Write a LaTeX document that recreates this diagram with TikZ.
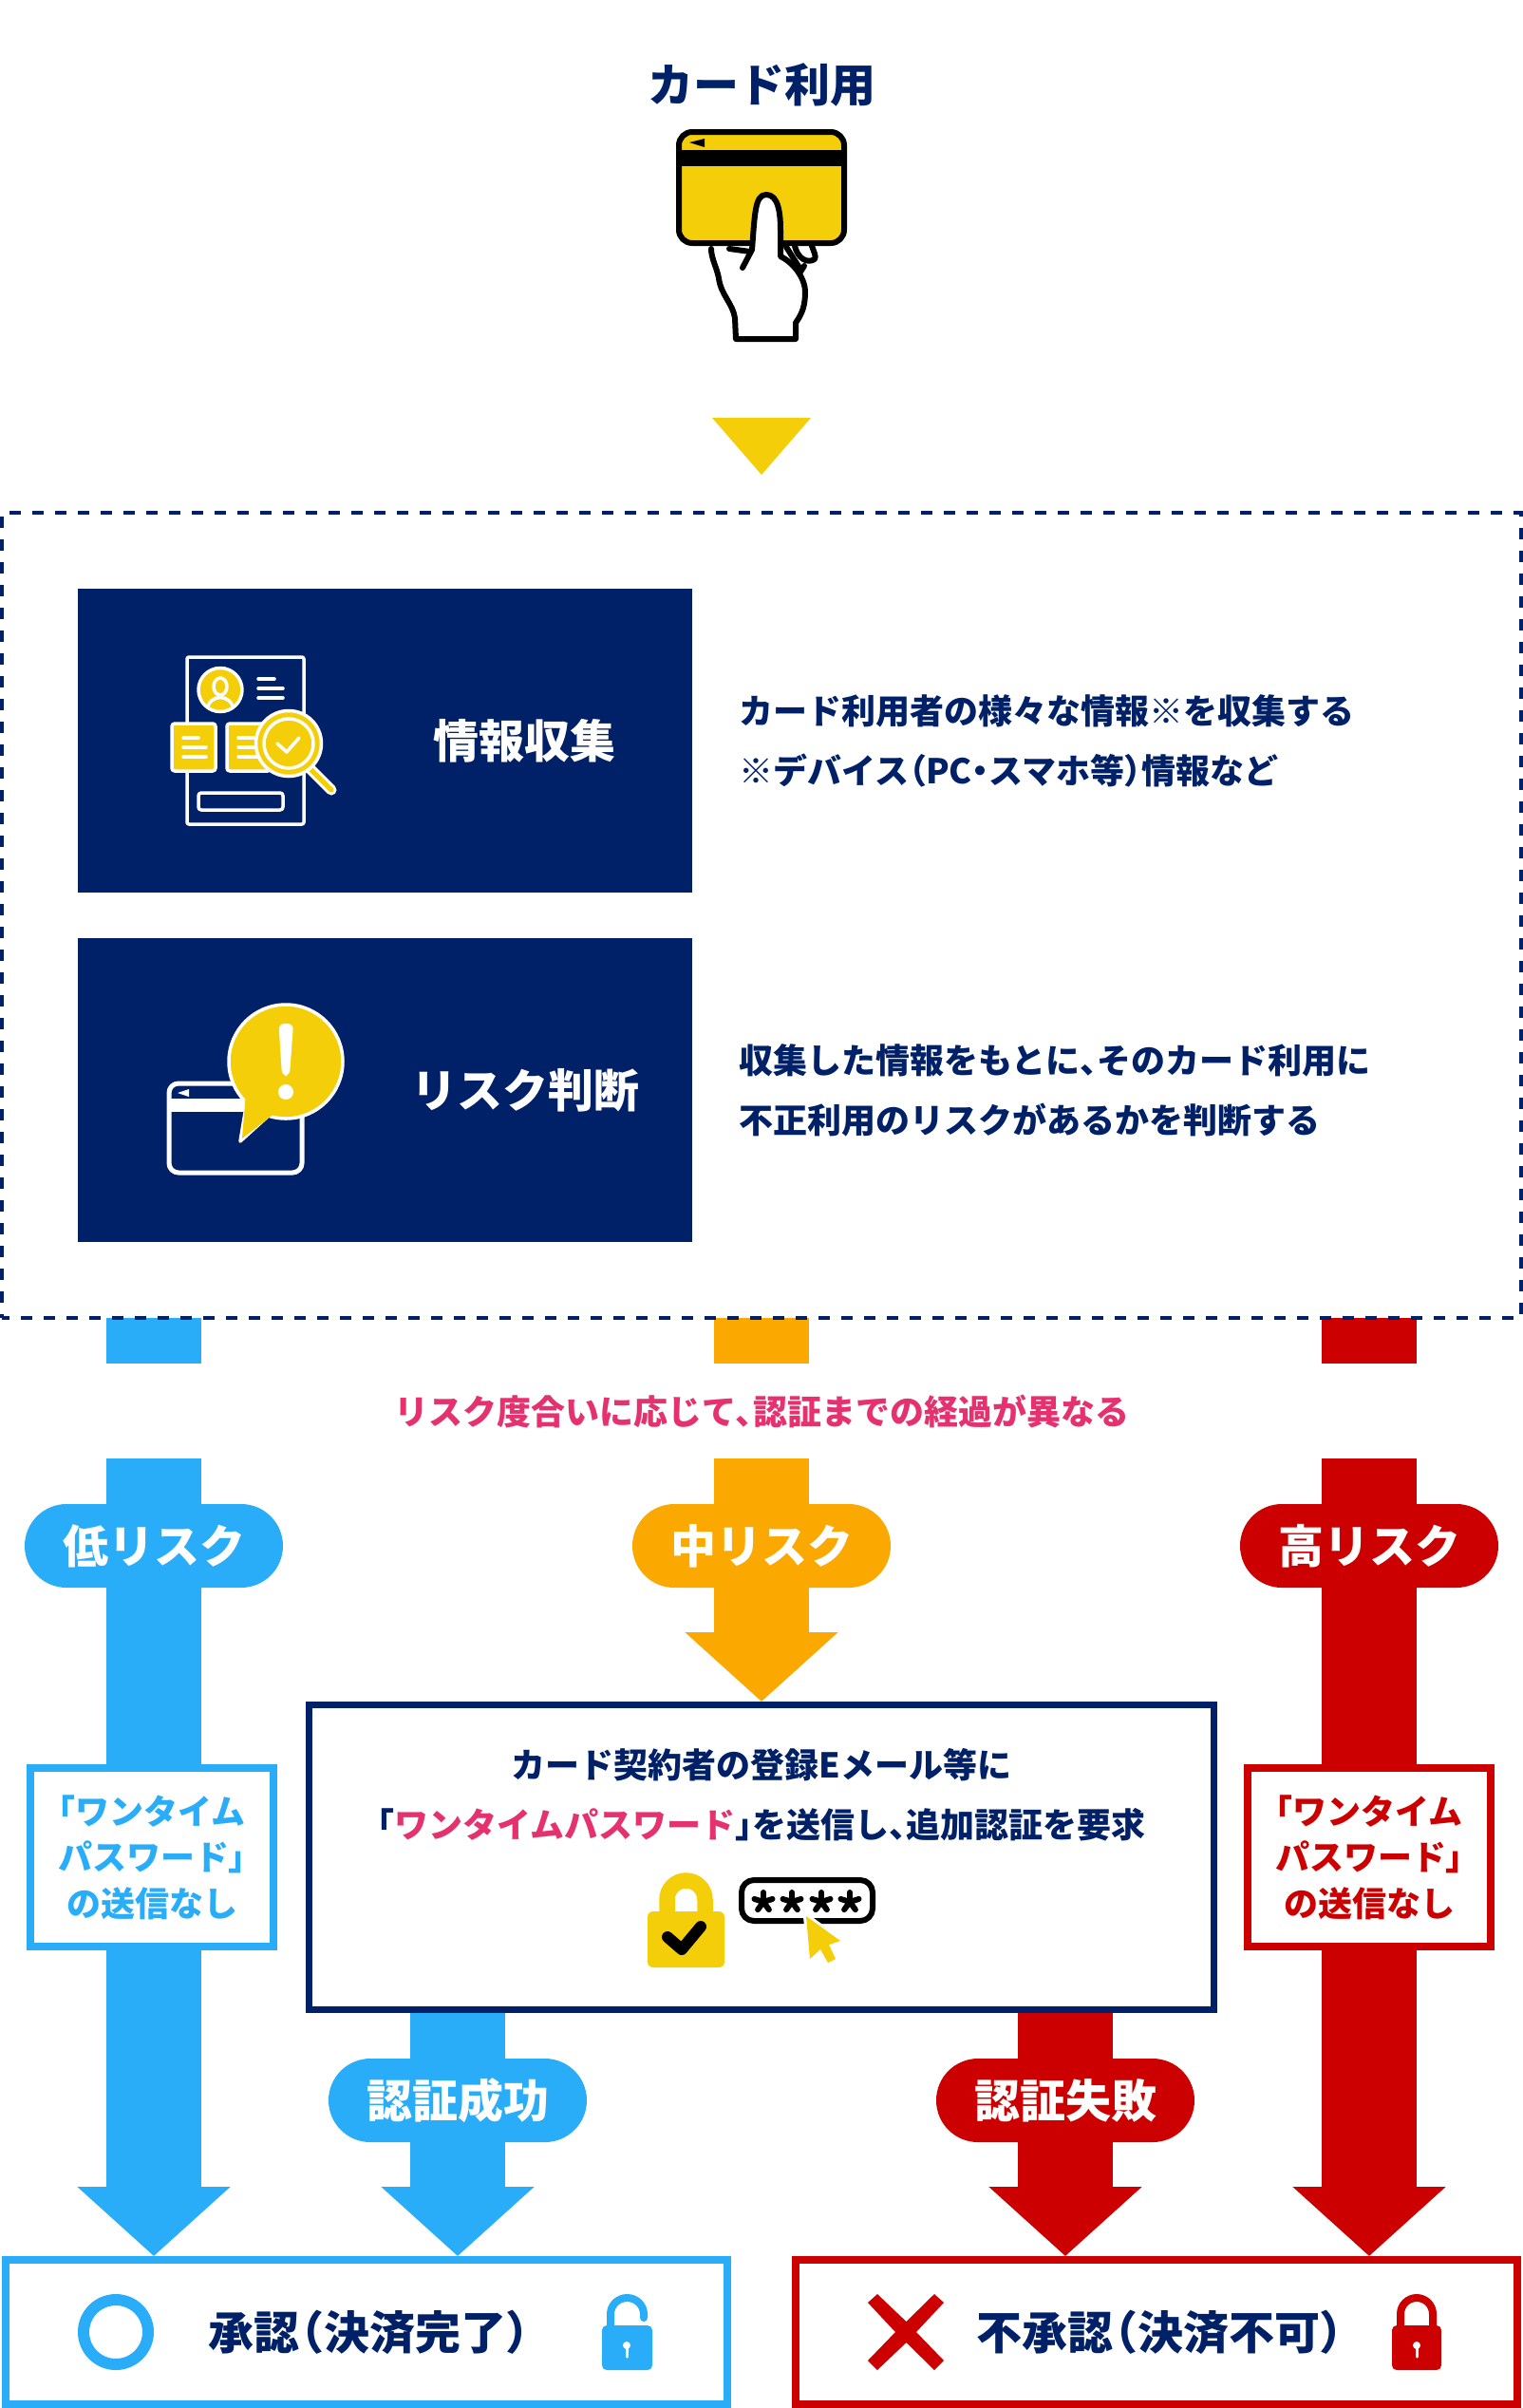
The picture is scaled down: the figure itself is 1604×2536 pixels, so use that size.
\documentclass[tikz,border=0pt]{standalone}
\usepackage{fontspec}
\setmainfont{Noto Sans CJK JP}
\newfontfamily\palfont{Noto Sans CJK JP}[RawFeature={+palt}]
\usetikzlibrary{positioning, arrows.meta, backgrounds}
\definecolor{navyc}{HTML}{002068}
\definecolor{yellowc}{HTML}{F5CE0A}
\definecolor{lowc}{HTML}{2AADF8}
\definecolor{midc}{HTML}{FBA900}
\definecolor{highc}{HTML}{CC0000}
\definecolor{pinkc}{HTML}{E6316F}
\newcommand{\tsize}[1]{\fontsize{#1}{#1}\selectfont\bfseries}
\newcommand{\pal}[1]{{\palfont #1}}
\tikzstyle{titletext} = [text=navyc, inner sep=0pt, font=\tsize{48}]
\tikzstyle{stepbox} = [fill=navyc, inner sep=0pt, minimum width=647pt, minimum height=320pt]
\tikzstyle{steplabel} = [text=white, inner sep=0pt, font=\tsize{48}]
\tikzstyle{steptext} = [text=navyc, inner sep=0pt, anchor=west, align=left, font=\fontsize{36}{63}\selectfont\bfseries]
\tikzstyle{riskpill} = [rounded corners=44pt, inner sep=0pt, text=white, minimum width=272pt, minimum height=88pt, font=\tsize{48}]
\tikzstyle{sidebox} = [draw, fill=white, line width=8pt, inner sep=0pt, minimum width=256pt, minimum height=188pt, align=center, font=\fontsize{36}{48.5}\selectfont\bfseries]
\tikzstyle{endbox} = [draw, fill=white, line width=8pt, inner sep=0pt, minimum height=152pt]
\tikzstyle{endtext} = [text=navyc, inner sep=0pt, font=\tsize{48}]
\tikzstyle{flowbar} = [line width=100pt]
\tikzstyle{flowarrow} = [line width=100pt, -{Triangle[length=73pt, width=157pt]}]
\tikzstyle{iconline} = [line width=6pt, line join=round, line cap=round]
\tikzstyle{whiteline} = [draw=white, line width=3.5pt, line join=round, line cap=round]

\begin{document}
\begin{tikzpicture}[x=1pt, y=-1pt]
  \useasboundingbox (0,0) rectangle (1604,2536);

  % top: card in hand
  \node[titletext] (title) at (802,89) {カード利用};
  \draw[iconline] (837,259) .. controls (840,272) and (850,278) .. (858,273) .. controls (860,270) and (857,265) .. (855,259);
  \draw[iconline] (828,260) -- (842,282);
  \draw[iconline] (847,280) -- (842,288);
  \draw[iconline, fill=yellowc, rounded corners=14pt] (715,139) rectangle (889,256);
  \fill (712,158) rectangle (892,175);
  \fill (726,150) -- (742,146) -- (742,155) -- cycle;
  \draw[iconline, fill=white] (749,262) .. controls (749,272) and (755,282) .. (757,293) .. controls (759,310) and (772,320) .. (774,335) -- (775,357) -- (838,357) -- (838,340) .. controls (845,330) and (848,322) .. (848,307) .. controls (848,295) and (838,278) .. (822,270) -- (822,243) .. controls (822,225) and (820,205) .. (807,205) .. controls (795,205) and (795,225) .. (792,263) -- (782,282);
  \draw[iconline] (768,262) -- (790,265);
  \fill[yellowc] (750,440) -- (854,440) -- (802,500) -- cycle;

  % dashed frame
  \node[draw=navyc, dash pattern=on 12pt off 12pt, dash phase=4pt, line width=4pt, inner sep=0pt, outer sep=0pt, minimum width=1600pt, minimum height=848pt] (riskframe) at (802,964) {};
  \node[stepbox] (collectbox) at (405.5,780) {};
  \node[stepbox] (judgebox) at (405.5,1148) {};
  \node[steplabel] (collectlabel) at (552,780) {情報収集};
  \node[steplabel] (judgelabel) at (553,1148) {リスク判断};
  \node[steptext] (collecttext) at (778,780.5) {カード利用者の様々な情報※を収集する\\※デバイス\pal{（}PC\pal{・}スマホ等\pal{）}情報など};
  \node[steptext] (judgetext) at (778,1148.5) {収集した情報をもとに\pal{、}そのカード利用に\\不正利用のリスクがあるかを判断する};

  % icon: collect
  \draw[whiteline, rounded corners=2pt] (197,692) rectangle (320,868);
  \draw[whiteline, fill=yellowc] (232,726.5) circle (23);
  \begin{scope}
    \clip (232,726.5) circle (22);
    \draw[whiteline, fill=yellowc] (232,723) ellipse (7 and 9);
    \draw[whiteline] (218,748) .. controls (220,730) and (244,730) .. (246,748);
  \end{scope}
  \draw[whiteline] (272,715) -- (289,715);
  \foreach \ly in {725,735} \draw[whiteline] (272,\ly) -- (298,\ly);
  \foreach \nx in {181,239} {
    \draw[whiteline, fill=yellowc, rounded corners=3pt] (\nx,762) rectangle ++(46,50);
    \draw[whiteline] (\nx+12,777) -- ++(16,0);
    \foreach \ly in {787,797} \draw[whiteline] (\nx+12,\ly) -- ++(24,0);
  }
  \draw[line width=11pt, white, line cap=round] (325,808) -- (349,832);
  \draw[line width=5pt, yellowc, line cap=round] (325,808) -- (349,832);
  \draw[whiteline, fill=yellowc] (304,783) circle (34.5);
  \draw[whiteline, fill=yellowc] (304,783) circle (26);
  \draw[whiteline] (292,783) -- (302,792) -- (315,777);
  \draw[whiteline, rounded corners=3pt] (209,835) rectangle (298,853);

  % icon: judge
  \draw[white, line width=5pt, rounded corners=10pt] (178,1141) rectangle (318,1235);
  \fill[white] (176,1157) rectangle (320,1171);
  \fill[white] (187,1151) -- (199,1147) -- (199,1155) -- cycle;
  \draw[whiteline, fill=yellowc] (260,1160) -- (253,1202) -- (284,1174) -- cycle;
  \draw[whiteline, fill=yellowc] (301,1118) circle (60);
  \fill[yellowc] (259,1150) -- (255,1199) -- (290,1172) -- cycle;
  \fill[white, rounded corners=6pt] (293.5,1078) -- (309,1078) -- (305,1133) -- (297,1133) -- cycle;
  \fill[white] (301,1150) circle (8);

  % risk levels
  \node[inner sep=0pt, text=pinkc, font=\tsize{36}] (risktext) at (802,1486) {リスク度合いに応じて\pal{、}認証までの経過が異なる};
  \coordinate (stubend) at (802,1436);
  \coordinate (barstart) at (802,1536);
  \node[riskpill, fill=lowc] (lowpill) at (162,1628) {低リスク};
  \node[riskpill, fill=midc] (midpill) at (802,1628) {中リスク};
  \node[riskpill, fill=highc] (highpill) at (1442,1628) {高リスク};

  \node[sidebox, draw=lowc, text=lowc] (lowside) at (160,1956) {\pal{「}ワンタイム\\パスワード\pal{」}\\の送信なし};
  \node[sidebox, draw=highc, text=highc] (highside) at (1442,1956) {\pal{「}ワンタイム\\パスワード\pal{」}\\の送信なし};
  \node[draw=navyc, fill=white, line width=7pt, inner sep=0pt, minimum width=953pt, minimum height=321pt] (mailbox) at (802,1956) {};
  \node[inner sep=0pt, text=navyc, align=center, font=\fontsize{36}{63}\selectfont\bfseries] (mailtext) at (802,1890) {カード契約者の登録Eメール等に\\\pal{「}\textcolor{pinkc}{ワンタイムパスワード}\pal{」}を送信し\pal{、}追加認証を要求};

  \node[riskpill, fill=lowc] (okpill) at (482,2212) {認証成功};
  \node[riskpill, fill=highc] (ngpill) at (1122,2212) {認証失敗};

  \node[endbox, draw=lowc, minimum width=760pt] (okbox) at (386,2456) {};
  \node[endbox, draw=highc, minimum width=760pt] (ngbox) at (1218,2456) {};
  \node[endtext] (oktext) at (389,2456) {承認\pal{（}\hspace{2pt}決済完了\hspace{2pt}\pal{）}};
  \node[endtext] (ngtext) at (1222,2456) {不承認\pal{（}\hspace{2pt}決済不可\hspace{2pt}\pal{）}};

  \begin{scope}[on background layer]
    \draw[flowbar, lowc] (riskframe.south -| lowpill) -- (stubend -| lowpill);
    \draw[flowbar, midc] (riskframe.south -| midpill) -- (stubend -| midpill);
    \draw[flowbar, highc] (riskframe.south -| highpill) -- (stubend -| highpill);
    \draw[flowarrow, lowc] (barstart -| lowpill) -- (okbox.north -| lowpill);
    \draw[flowarrow, midc] (barstart -| midpill) -- (mailbox.north);
    \draw[flowarrow, highc] (barstart -| highpill) -- (ngbox.north -| highpill);
    \draw[flowarrow, lowc] (mailbox.south -| okpill) -- (okbox.north -| okpill);
    \draw[flowarrow, highc] (mailbox.south -| ngpill) -- (ngbox.north -| ngpill);
  \end{scope}

  % icon: lock and password
  \draw[yellowc, line width=16.5pt] (702.5,2020) -- (702.5,2000.5) arc (180:360:20) -- (742.5,2020);
  \fill[yellowc, rounded corners=6pt] (682,2013) rectangle (763,2072);
  \draw[line width=12pt, line cap=round, line join=round] (703,2040) -- (718,2053) -- (738,2029);
  \draw[iconline, rounded corners=13pt] (781,1980) rectangle (919,2023);
  \foreach \sx in {804,834,865,895} {
    \foreach \ang in {270,342,54,126,198}
      \draw[line width=6pt, line cap=round] (\sx,2003) -- ++(\ang:10);
  }
  \draw[white, line width=6pt, fill=yellowc, line join=round] (849,2018) -- (885,2044) -- (873,2048) -- (880,2063) -- (872,2067) -- (864,2053) -- (853,2063) -- cycle;
  \fill[yellowc] (849,2018) -- (885,2044) -- (873,2048) -- (880,2063) -- (872,2067) -- (864,2053) -- (853,2063) -- cycle;

  % icons: result
  \draw[lowc, line width=12pt] (122,2456) circle (34);
  \draw[lowc, line width=8pt, line cap=round] (643,2452) -- (643,2437) arc (180:360:17.5 and 17) -- (678,2441);
  \fill[lowc, rounded corners=5pt] (634,2449) rectangle (687,2496);
  \fill[white] (660,2470) circle (4);
  \draw[white, line width=3pt, line cap=round] (660,2470) -- (660,2482);
  \fill[highc] (924,2416) -- (954.5,2445) -- (984,2416) -- (994,2425) -- (965,2456) -- (994,2486) -- (984,2496) -- (954.5,2467) -- (924,2496) -- (914,2486) -- (943,2456) -- (914,2425) -- cycle;
  \draw[highc, line width=8pt] (1475,2452) -- (1475,2437) arc (180:360:17 and 17) -- (1509,2452);
  \fill[highc, rounded corners=5pt] (1466,2449) rectangle (1518,2496);
  \fill[white] (1492,2470) circle (4);
  \draw[white, line width=3pt, line cap=round] (1492,2470) -- (1492,2482);
\end{tikzpicture}
\end{document}
